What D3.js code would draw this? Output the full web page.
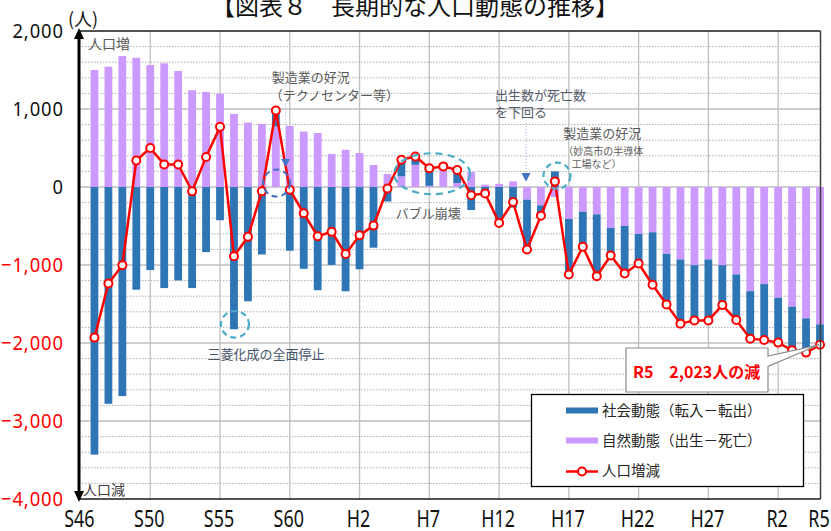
<!DOCTYPE html>
<html><head><meta charset="utf-8">
<script src="https://cdn.jsdelivr.net/npm/d3@7"></script>
<style>
body{margin:0;background:#fff;}
svg{display:block;font-family:"Noto Sans CJK JP","Noto Sans",sans-serif;}
</style></head><body>
<svg id="c" width="831" height="531"></svg>
<script>
// ---- data ----
const years = ["S46","S47","S48","S49","S50","S51","S52","S53","S54","S55","S56","S57","S58","S59","S60","S61","S62","S63",
  "H1","H2","H3","H4","H5","H6","H7","H8","H9","H10","H11","H12","H13","H14","H15","H16","H17","H18","H19","H20","H21","H22",
  "H23","H24","H25","H26","H27","H28","H29","H30","R1","R2","R3","R4","R5"];
const natural = [1500,1542,1679,1657,1564,1585,1487,1240,1219,1197,937,826,809,775,782,711,692,424,
  477,435,283,166,136,285,15,250,51,191,30,40,72,-162,-235,-128,-409,-316,-350,-525,-499,-601,
  -580,-857,-929,-1002,-929,-1002,-1121,-1335,-1245,-1419,-1534,-1684,-1761];
const social = [-3431,-2779,-2681,-1317,-1065,-1296,-1198,-1296,-835,-426,-1824,-1465,-865,205,-817,-1049,-1323,-999,
  -1337,-1055,-778,-186,214,107,225,14,168,-296,-112,-500,-264,-640,-132,200,-712,-451,-793,-353,-610,-380,
  -673,-648,-823,-708,-781,-512,-585,-609,-717,-576,-559,-439,-262];
const total = [-1931,-1237,-1002,340,499,289,289,-56,384,771,-887,-639,-56,980,-35,-338,-631,-575,
  -860,-620,-495,-20,350,392,240,264,219,-105,-82,-460,-192,-802,-367,72,-1121,-767,-1143,-878,-1109,-981,
  -1253,-1505,-1752,-1710,-1710,-1514,-1706,-1944,-1962,-1995,-2093,-2123,-2023];
const yTicks = [2000,1000,0,-1000,-2000,-3000,-4000];
const xTickLabels = ["S46","S50","S55","S60","H2","H7","H12","H17","H22","H27","R2","R5"];
const xTickIndex = [-1,4,9,14,19,24,29,34,39,44,49,52];
const seriesNames = ["社会動態（転入－転出）","自然動態（出生－死亡）","人口増減"];

const C_SOC = "#2E75B6", C_NAT = "#CC99FF", C_LINE = "#FF0000";

// ---- scales ----
const svg = d3.select("#c");
const x = d3.scaleLinear().domain([-1, 52]).range([80.5, 820]);
const y = d3.scaleLinear().domain([-4000, 2000]).range([499, 31]);
const L = 79, R = 820.5, T = y(2000), B = y(-4000);

// ---- grid ----
const g = svg.append("g");
const minor = d3.range(-4000, 2001, 200).filter(v => v % 1000 !== 0);
g.selectAll(".mn").data(minor).join("line")
  .attr("x1", L).attr("x2", R).attr("y1", d => y(d)).attr("y2", d => y(d))
  .attr("stroke", "#9a9a9a").attr("stroke-width", 0.8).attr("stroke-dasharray", "1.5,1.5");
g.selectAll(".mj").data([1000,0,-1000,-2000,-3000]).join("line")
  .attr("x1", L).attr("x2", R).attr("y1", d => y(d)).attr("y2", d => y(d))
  .attr("stroke", "#bfbfbf").attr("stroke-width", 1.3);
g.selectAll(".vg").data(d3.range(4, 50, 5)).join("line")
  .attr("x1", d => x(d)).attr("x2", d => x(d)).attr("y1", T).attr("y2", B)
  .attr("stroke", "#bfbfbf").attr("stroke-width", 1.3);

// ---- stacked bars ----
const rows = years.map((yr, i) => ({year: yr, i, natural: natural[i], social: social[i]}));
const stacked = d3.stack().keys(["natural","social"]).offset(d3.stackOffsetDiverging)(rows);
const bw = 7.8;
const colorOf = {natural: C_NAT, social: C_SOC};
svg.append("g").selectAll("g").data(stacked).join("g")
  .attr("fill", s => colorOf[s.key])
  .selectAll("rect").data(s => s).join("rect")
  .attr("x", d => x(d.data.i) - bw/2).attr("width", bw)
  .attr("y", d => y(Math.max(d[0], d[1])))
  .attr("height", d => Math.abs(y(d[0]) - y(d[1])));

// ---- line ----
const line = d3.line().x((d, i) => x(i)).y(d => y(d));
svg.append("path").datum(total).attr("d", line)
  .attr("fill", "none").attr("stroke", C_LINE).attr("stroke-width", 2.5);
svg.append("g").selectAll("circle").data(total).join("circle")
  .attr("cx", (d, i) => x(i)).attr("cy", d => y(d)).attr("r", 4)
  .attr("fill", "#fff").attr("stroke", C_LINE).attr("stroke-width", 2);

// ---- frame ----
svg.append("line").attr("x1", L).attr("x2", R).attr("y1", T).attr("y2", T).attr("stroke", "#1a1a1a").attr("stroke-width", 1.5);
svg.append("line").attr("x1", R).attr("x2", R).attr("y1", T).attr("y2", B).attr("stroke", "#404040").attr("stroke-width", 1.5);
svg.append("line").attr("x1", L).attr("x2", R).attr("y1", B).attr("y2", B).attr("stroke", "#1a1a1a").attr("stroke-width", 1.5);
svg.append("line").attr("x1", L).attr("x2", L).attr("y1", T + 6).attr("y2", B - 6).attr("stroke", "#000").attr("stroke-width", 3);
svg.append("path").attr("d", `M${L},${T-3} L${L-5},${T+8} L${L+5},${T+8} Z`).attr("fill", "#000");
svg.append("path").attr("d", `M${L},${B+3} L${L-5},${B-8} L${L+5},${B-8} Z`).attr("fill", "#000");

// ---- y axis labels ----
const ya = svg.append("g").attr("transform", "translate(64,0)")
  .call(d3.axisLeft(y).tickValues(yTicks).tickSize(0).tickPadding(0).tickFormat(d3.format(",")));
ya.select(".domain").remove();
ya.selectAll("text").attr("font-size", 20).attr("font-family", "'Noto Sans',sans-serif")
  .attr("fill", d => d < 0 ? "#FF0000" : "#111").attr("transform", "scale(0.92,1)")
  .attr("letter-spacing", "1px");

// ---- x axis labels ----
const xa = svg.append("g").attr("transform", "translate(0,511)")
  .call(d3.axisBottom(x).tickValues(xTickIndex).tickSize(0).tickPadding(0).tickFormat((d, i) => xTickLabels[i]));
xa.select(".domain").remove();
xa.selectAll("text").attr("font-size", 23).attr("font-family", "'Noto Sans',sans-serif")
  .attr("fill", "#111").attr("dx", -2).attr("transform", "scale(0.78,1)");

// ---- title & unit ----
svg.append("text").attr("x", 415).attr("y", 15).attr("text-anchor", "middle")
  .attr("font-size", 24).attr("fill", "#111").text("【図表８　長期的な人口動態の推移】");
svg.append("text").attr("x", 68).attr("y", 26).attr("font-size", 18).attr("fill", "#111").text("(人)");
svg.append("text").attr("x", 88).attr("y", 49).attr("font-size", 14).attr("fill", "#595959").text("人口増");
svg.append("text").attr("x", 83).attr("y", 495).attr("font-size", 14).attr("fill", "#404040").text("人口減");

// ---- annotations ----
const ann = svg.append("g");
const grey = "#595959";
// 製造業の好況（テクノセンター等）
ann.append("text").attr("x", x(13) - 4).attr("y", y(1350)).attr("font-size", 13).attr("fill", grey).text("製造業の好況");
ann.append("text").attr("x", x(13) - 6).attr("y", y(1120)).attr("font-size", 13).attr("fill", grey).text("（テクノセンター等）");
ann.append("line").attr("x1", x(13.7)).attr("x2", x(13.7)).attr("y1", y(1070)).attr("y2", y(360))
  .attr("stroke", "#8FAADC").attr("stroke-width", 1).attr("stroke-dasharray", "1,2");
ann.append("path").attr("d", `M${x(13.7)-4.5},${y(360)} L${x(13.7)+4.5},${y(360)} L${x(13.7)},${y(260)} Z`).attr("fill", "#4472C4");
ann.append("ellipse").attr("cx", x(13.05)).attr("cy", y(50)).attr("rx", 13.5).attr("ry", 13.5)
  .attr("fill", "none").attr("stroke", "#4472C4").attr("stroke-width", 2).attr("stroke-dasharray", "6,4");
// 出生数が死亡数を下回る
ann.append("text").attr("x", x(28.7)).attr("y", y(1120)).attr("font-size", 13).attr("fill", "#555d6b").text("出生数が死亡数");
ann.append("text").attr("x", x(28.7)).attr("y", y(900)).attr("font-size", 13).attr("fill", "#555d6b").text("を下回る");
ann.append("line").attr("x1", x(30.93)).attr("x2", x(30.93)).attr("y1", y(820)).attr("y2", y(180))
  .attr("stroke", "#8FAADC").attr("stroke-width", 1).attr("stroke-dasharray", "1,2");
ann.append("path").attr("d", `M${x(30.93)-4.5},${y(180)} L${x(30.93)+4.5},${y(180)} L${x(30.93)},${y(68)} Z`).attr("fill", "#4472C4");
// 製造業の好況（妙高市の半導体工場など）
ann.append("text").attr("x", x(33.6)).attr("y", y(625)).attr("font-size", 13).attr("fill", grey).text("製造業の好況");
ann.append("text").attr("x", x(33.6)).attr("y", y(410)).attr("font-size", 10).attr("fill", grey).text("（妙高市の半導体");
ann.append("text").attr("x", x(34.2)).attr("y", y(250)).attr("font-size", 10).attr("fill", grey).text("工場など）");
ann.append("ellipse").attr("cx", x(33.15)).attr("cy", y(145)).attr("rx", 13.5).attr("ry", 13)
  .attr("fill", "none").attr("stroke", "#4BACC6").attr("stroke-width", 2.2).attr("stroke-dasharray", "6,4");
// バブル崩壊
ann.append("ellipse").attr("cx", x(24.2)).attr("cy", y(170)).attr("rx", 38).attr("ry", 20.5)
  .attr("fill", "none").attr("stroke", "#4BACC6").attr("stroke-width", 2.2).attr("stroke-dasharray", "7,5");
ann.append("text").attr("x", x(21.6)).attr("y", y(-400)).attr("font-size", 13).attr("fill", grey).text("バブル崩壊");
// 三菱化成の全面停止
ann.append("ellipse").attr("cx", x(10.07)).attr("cy", y(-1760)).attr("rx", 14).attr("ry", 13.3)
  .attr("fill", "none").attr("stroke", "#4BACC6").attr("stroke-width", 2.2).attr("stroke-dasharray", "6,4");
ann.append("text").attr("x", x(8.1)).attr("y", y(-2200)).attr("font-size", 13).attr("fill", "#44546A").text("三菱化成の全面停止");

// ---- callout ----
const tipX = x(52), tipY = y(total[52]);
svg.append("path").attr("d", `M626,348 H768 V356 L${tipX-1},${tipY} L768,366.5 V392 H626 Z`)
  .attr("fill", "#fff").attr("stroke", "#8c8c8c").attr("stroke-width", 1.2);
svg.append("text").attr("x", 633).attr("y", 377.5).attr("font-size", 16).attr("font-weight", "bold")
  .attr("fill", "#FF0000").text(years[52] + "　" + d3.format(",")(-total[52]) + "人の減");

// ---- legend ----
const lg = svg.append("g");
lg.append("rect").attr("x", 531.5).attr("y", 394.5).attr("width", 272).attr("height", 92)
  .attr("fill", "#fff").attr("stroke", "#000").attr("stroke-width", 1.3);
lg.append("rect").attr("x", 566).attr("y", 407.5).attr("width", 32).attr("height", 6).attr("fill", C_SOC);
lg.append("rect").attr("x", 566).attr("y", 437.5).attr("width", 32).attr("height", 6).attr("fill", C_NAT);
lg.append("line").attr("x1", 566).attr("x2", 598).attr("y1", 471.5).attr("y2", 471.5).attr("stroke", C_LINE).attr("stroke-width", 2.5);
lg.append("circle").attr("cx", 582).attr("cy", 471.5).attr("r", 4).attr("fill", "#fff").attr("stroke", C_LINE).attr("stroke-width", 2);
[411, 441, 471].forEach((yy, k) => {
  lg.append("text").attr("x", 602).attr("y", yy).attr("dy", "0.36em").attr("font-size", 14.5)
    .attr("fill", "#262626").text(seriesNames[k]);
});
</script>
</body></html>
